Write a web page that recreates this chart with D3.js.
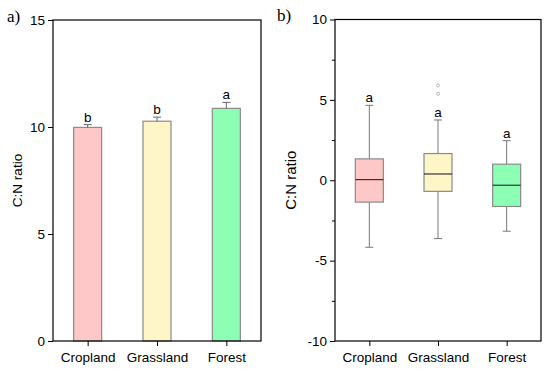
<!DOCTYPE html>
<html>
<head>
<meta charset="utf-8">
<script src="https://cdn.jsdelivr.net/npm/d3@7"></script>
<style>
  body { margin: 0; background: #fff; }
  text { font-family: Arial, "Liberation Sans", sans-serif; }
</style>
</head>
<body>
<div id="chart"></div>
<script>
// data
var categories = ["Cropland", "Grassland", "Forest"];
var colors = ["#ffc8c8", "#fff6c8", "#8cffb4"];

// panel a: mean C:N ratio with error
var barMeans = [9.98, 10.27, 10.87];
var barErr = [0.13, 0.19, 0.28];
var barLetters = ["b", "b", "a"];
var yTicksA = [0, 5, 10, 15];

// panel b: box plot stats
var boxWhiskLow = [-4.17, -3.63, -3.17];
var boxQ1 = [-1.36, -0.69, -1.63];
var boxMedian = [0.04, 0.39, -0.31];
var boxQ3 = [1.33, 1.66, 1.0];
var boxWhiskHigh = [4.66, 3.75, 2.46];
var boxOutliers = [[], [5.38, 5.9], []];
var boxLetters = ["a", "a", "a"];
var yTicksB = [-10, -5, 0, 5, 10];
var yMinorB = [-7.5, -2.5, 2.5, 7.5];

var fontFam = "Arial, 'Liberation Sans', sans-serif";
function plain(d) { return String(d); }

var svg = d3.select("#chart").append("svg")
    .attr("width", 550)
    .attr("height", 373);

// ---------- panel a ----------
var a = {left: 53, top: 20, right: 261, bottom: 341};

var xa = d3.scalePoint()
    .domain(categories)
    .range([a.left, a.right])
    .padding(0.5);

var ya = d3.scaleLinear()
    .domain([0, 15])
    .range([a.bottom, a.top]);

var ga = svg.append("g");
var barW = 28;

// bars
ga.selectAll(".bar")
    .data(categories)
    .enter()
    .append("rect")
    .attr("x", function(d) { return xa(d) - barW / 2; })
    .attr("y", function(d, i) { return ya(barMeans[i]); })
    .attr("width", barW)
    .attr("height", function(d, i) { return ya(0) - ya(barMeans[i]); })
    .attr("fill", function(d, i) { return colors[i]; })
    .attr("stroke", "#8a8a8a")
    .attr("stroke-width", 1.2);

// error bars (upper only)
ga.selectAll(".err")
    .data(categories)
    .enter()
    .append("path")
    .attr("d", function(d, i) {
        var cx = xa(d), y0 = ya(barMeans[i]), y1 = ya(barMeans[i] + barErr[i]);
        return "M" + cx + "," + y0 + "V" + y1 + "M" + (cx - 4) + "," + y1 + "H" + (cx + 4);
    })
    .attr("stroke", "#666")
    .attr("stroke-width", 1)
    .attr("fill", "none");

ga.selectAll(".lab")
    .data(categories)
    .enter()
    .append("text")
    .attr("x", function(d) { return xa(d); })
    .attr("y", function(d, i) { return ya(barMeans[i] + barErr[i]) - 3; })
    .attr("text-anchor", "middle")
    .attr("font-size", 13.5)
    .text(function(d, i) { return barLetters[i]; });

// axes
ga.append("g")
    .attr("transform", "translate(" + a.left + ",0)")
    .call(d3.axisLeft(ya).tickValues(yTicksA).tickFormat(plain).tickSize(5).tickPadding(3))
    .call(function(g) { g.select(".domain").remove(); })
    .selectAll("text").attr("font-size", 13.5).attr("font-family", fontFam);

ga.append("g")
    .attr("transform", "translate(0," + a.bottom + ")")
    .call(d3.axisBottom(xa).tickSize(5).tickPadding(6))
    .call(function(g) { g.select(".domain").remove(); })
    .selectAll("text").attr("font-size", 13.5).attr("font-family", fontFam);

ga.append("rect")
    .attr("x", a.left).attr("y", a.top)
    .attr("width", a.right - a.left).attr("height", a.bottom - a.top)
    .attr("fill", "none").attr("stroke", "#000").attr("stroke-width", 1.2);

ga.append("text")
    .attr("transform", "translate(22," + ((a.top + a.bottom) / 2) + ") rotate(-90)")
    .attr("text-anchor", "middle")
    .attr("font-size", 13.5)
    .text("C:N ratio");

ga.append("text")
    .attr("x", 7).attr("y", 22)
    .style("font-family", "'Liberation Serif', 'Times New Roman', serif")
    .attr("font-size", 17)
    .text("a)");

// ---------- panel b ----------
var b = {left: 335, top: 19.5, right: 541, bottom: 341};

var xb = d3.scalePoint()
    .domain(categories)
    .range([b.left, b.right])
    .padding(0.5);

var yb = d3.scaleLinear()
    .domain([-10, 10])
    .range([b.bottom, b.top]);

var gb = svg.append("g");
var boxW = 28;

// whiskers
gb.selectAll(".whisk")
    .data(categories)
    .enter()
    .append("path")
    .attr("d", function(d, i) {
        var cx = xb(d);
        return "M" + cx + "," + yb(boxWhiskHigh[i]) + "V" + yb(boxQ3[i]) +
            "M" + cx + "," + yb(boxQ1[i]) + "V" + yb(boxWhiskLow[i]) +
            "M" + (cx - 4) + "," + yb(boxWhiskHigh[i]) + "H" + (cx + 4) +
            "M" + (cx - 4) + "," + yb(boxWhiskLow[i]) + "H" + (cx + 4);
    })
    .attr("stroke", "#777")
    .attr("stroke-width", 1)
    .attr("fill", "none");

gb.selectAll(".box")
    .data(categories)
    .enter()
    .append("rect")
    .attr("x", function(d) { return xb(d) - boxW / 2; })
    .attr("y", function(d, i) { return yb(boxQ3[i]); })
    .attr("width", boxW)
    .attr("height", function(d, i) { return yb(boxQ1[i]) - yb(boxQ3[i]); })
    .attr("fill", function(d, i) { return colors[i]; })
    .attr("stroke", "#8a8a8a")
    .attr("stroke-width", 1.2);

gb.selectAll(".median")
    .data(categories)
    .enter()
    .append("line")
    .attr("x1", function(d) { return xb(d) - boxW / 2; })
    .attr("x2", function(d) { return xb(d) + boxW / 2; })
    .attr("y1", function(d, i) { return yb(boxMedian[i]); })
    .attr("y2", function(d, i) { return yb(boxMedian[i]); })
    .attr("stroke", "#333")
    .attr("stroke-width", 1.2);

// outliers
categories.forEach(function(c, i) {
    gb.selectAll(".out" + i)
        .data(boxOutliers[i])
        .enter()
        .append("circle")
        .attr("cx", xb(c))
        .attr("cy", function(v) { return yb(v); })
        .attr("r", 1.5)
        .attr("fill", "none")
        .attr("stroke", "#aaa")
        .attr("stroke-width", 0.8);
});

gb.selectAll(".lab")
    .data(categories)
    .enter()
    .append("text")
    .attr("x", function(d) { return xb(d); })
    .attr("y", function(d, i) { return yb(boxWhiskHigh[i]) - 3; })
    .attr("text-anchor", "middle")
    .attr("font-size", 13.5)
    .text(function(d, i) { return boxLetters[i]; });

gb.append("g")
    .attr("transform", "translate(" + b.left + ",0)")
    .call(d3.axisLeft(yb).tickValues(yTicksB).tickFormat(plain).tickSize(5).tickPadding(3))
    .call(function(g) { g.select(".domain").remove(); })
    .selectAll("text").attr("font-size", 13.5).attr("font-family", fontFam);

gb.append("g")
    .attr("transform", "translate(" + b.left + ",0)")
    .call(d3.axisLeft(yb).tickValues(yMinorB).tickSize(3).tickFormat(""))
    .call(function(g) { g.select(".domain").remove(); });

gb.append("g")
    .attr("transform", "translate(0," + b.bottom + ")")
    .call(d3.axisBottom(xb).tickSize(5).tickPadding(6))
    .call(function(g) { g.select(".domain").remove(); })
    .selectAll("text").attr("font-size", 13.5).attr("font-family", fontFam);

gb.append("rect")
    .attr("x", b.left).attr("y", b.top)
    .attr("width", b.right - b.left).attr("height", b.bottom - b.top)
    .attr("fill", "none").attr("stroke", "#000").attr("stroke-width", 1.2);

gb.append("text")
    .attr("transform", "translate(296," + ((b.top + b.bottom) / 2) + ") rotate(-90)")
    .attr("text-anchor", "middle")
    .attr("font-size", 15)
    .text("C:N ratio");

gb.append("text")
    .attr("x", 277).attr("y", 21)
    .style("font-family", "'Liberation Serif', 'Times New Roman', serif")
    .attr("font-size", 17)
    .text("b)");
</script>
</body>
</html>
